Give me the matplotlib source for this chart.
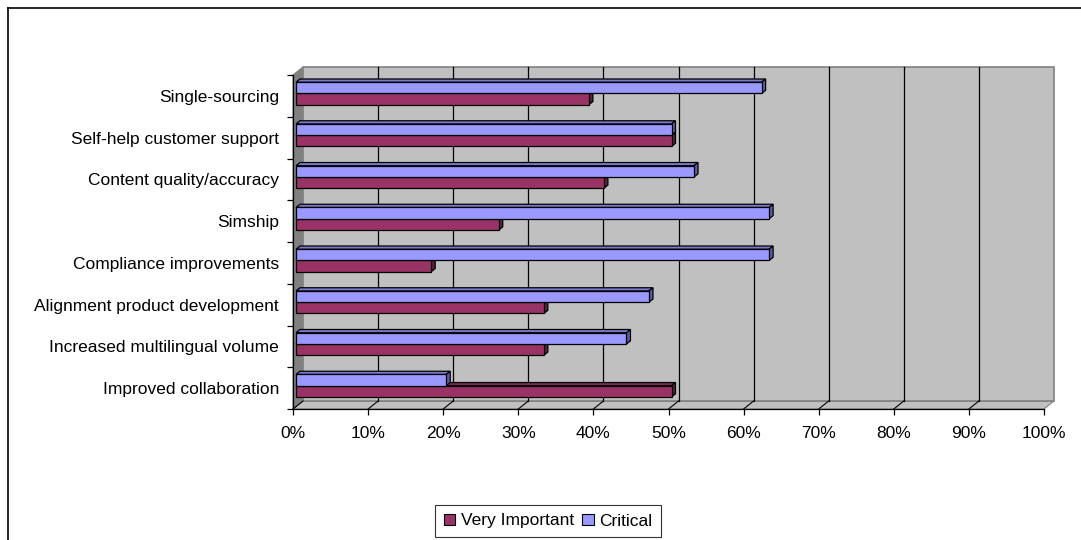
import matplotlib.pyplot as plt
from matplotlib.patches import Patch
from matplotlib.lines import Line2D

plt.rcParams['font.family'] = ['Liberation Sans', 'DejaVu Sans']

# categories listed bottom to top
categories = ["Improved collaboration", "Increased multilingual volume",
              "Alignment product development", "Compliance improvements",
              "Simship", "Content quality/accuracy",
              "Self-help customer support", "Single-sourcing"]
very_important = [50, 33, 33, 18, 27, 41, 50, 39]
critical = [20, 44, 47, 63, 63, 53, 50, 62]
series_names = ["Very Important", "Critical"]

tick_values = list(range(0, 101, 10))
tick_labels = ["{}%".format(t) for t in tick_values]

# face / top / end colours for each series
vi_cols = ("#993366", "#7a2952", "#5c1f3d")
cr_cols = ("#9999ff", "#7a7acc", "#5c5ca6")

W, H = 1081, 540
fig = plt.figure(figsize=(W / 100, H / 100), dpi=100)

# front plane of the 3d box in pixels
px_left, px_right, px_top, px_bot = 293, 1044, 75, 409
ax = fig.add_axes([px_left / W, 1 - px_bot / H,
                   (px_right - px_left) / W, (px_bot - px_top) / H])
n = len(categories)
ax.set_xlim(0, 100)
ax.set_ylim(-0.5, n - 0.5)

# depth offset of the back wall, in data units
DX = 10 / ((px_right - px_left) / 100.0)
DY = 8 / ((px_bot - px_top) / float(n))
ylo, yhi = -0.5, n - 0.5

# side wall, floor and back wall
ax.fill([0, 0, DX, DX], [ylo, yhi, yhi + DY, ylo + DY],
        facecolor="#808080", edgecolor="#808080", lw=0.8, clip_on=False, zorder=1)
ax.fill([0, 100, 100 + DX, DX], [ylo, ylo, ylo + DY, ylo + DY],
        facecolor="#c0c0c0", edgecolor="#808080", lw=0.8, clip_on=False, zorder=1)
ax.fill([DX, 100 + DX, 100 + DX, DX], [ylo + DY, ylo + DY, yhi + DY, yhi + DY],
        facecolor="#c0c0c0", edgecolor="#808080", lw=1.2, clip_on=False, zorder=1)

for t in tick_values[1:-1]:
    ax.plot([t + DX, t + DX], [ylo + DY, yhi + DY], color="black", lw=0.9,
            clip_on=False, zorder=2)
for t in tick_values[:-1]:
    ax.plot([t, t + DX], [ylo, ylo + DY], color="black", lw=0.8,
            clip_on=False, zorder=2)


def bar3d(y0, h, v, cols):
    # front face sits at 0.3 of the depth, bar depth is 0.4
    f0, d = 0.3, 0.4
    x0, x1 = f0 * DX, v + f0 * DX
    yb, yt = y0 + f0 * DY, y0 + h + f0 * DY
    ox, oy = d * DX, d * DY
    kw = dict(edgecolor="black", lw=0.9, clip_on=False, zorder=3)
    ax.fill([x0, x1, x1 + ox, x0 + ox], [yt, yt, yt + oy, yt + oy],
            facecolor=cols[1], **kw)
    ax.fill([x1, x1 + ox, x1 + ox, x1], [yb, yb + oy, yt + oy, yt],
            facecolor=cols[2], **kw)
    ax.fill([x0, x1, x1, x0], [yb, yb, yt, yt], facecolor=cols[0], **kw)


bh = 0.27
for i in range(n - 1, -1, -1):
    bar3d(i - bh, bh, very_important[i], vi_cols)
    bar3d(i, bh, critical[i], cr_cols)

for s in ["top", "right"]:
    ax.spines[s].set_visible(False)
for s in ["left", "bottom"]:
    ax.spines[s].set_color("black")
    ax.spines[s].set_linewidth(0.9)
    ax.spines[s].set_zorder(4)

ax.set_xticks(tick_values)
ax.set_xticklabels(tick_labels)
ax.set_yticks([k - 0.5 for k in range(n + 1)])
ax.set_yticklabels([])
ax.set_yticks(range(n), minor=True)
ax.set_yticklabels(categories, minor=True)
ax.tick_params(axis="both", which="major", direction="out", length=4,
               width=0.9, color="black", labelsize=12.5, pad=4)
ax.tick_params(axis="x", which="major", pad=8)
ax.tick_params(axis="y", which="minor", length=0, pad=10, labelsize=12.5)

handles = [Patch(facecolor=vi_cols[0], edgecolor="black", lw=0.8),
           Patch(facecolor=cr_cols[0], edgecolor="black", lw=0.8)]
leg = fig.legend(handles, series_names, loc="center",
                 bbox_to_anchor=(548 / W, 1 - 521 / H), ncol=2,
                 fontsize=12.5, frameon=True, fancybox=False,
                 handlelength=0.65, handleheight=0.65, handletextpad=0.3,
                 columnspacing=0.5, borderpad=0.5, borderaxespad=0)
leg.get_frame().set_edgecolor("black")
leg.get_frame().set_linewidth(0.8)

# chart area border (top and left edges)
fig.add_artist(Line2D([8 / W, 1], [1 - 7.5 / H, 1 - 7.5 / H],
                      transform=fig.transFigure, color="black", lw=1.2))
fig.add_artist(Line2D([8 / W, 8 / W], [0, 1 - 7.5 / H],
                      transform=fig.transFigure, color="black", lw=1.2))

fig.savefig("out.png", dpi=100, facecolor="white")
